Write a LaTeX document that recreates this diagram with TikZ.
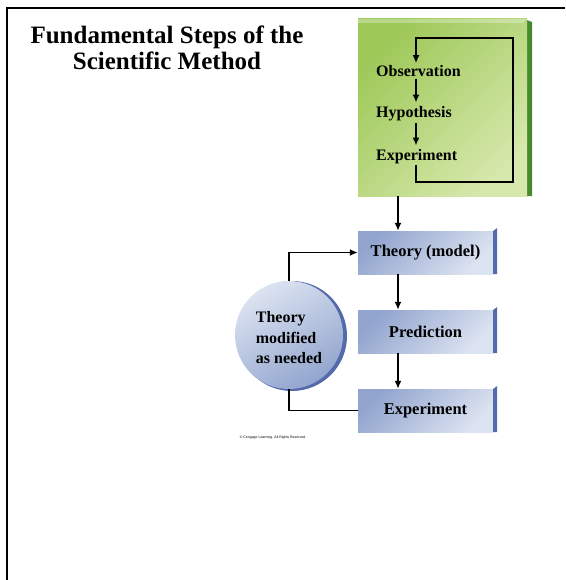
\documentclass[tikz,border=0pt]{standalone}
\usepackage{fontspec}
\setmainfont{Liberation Serif}
\newfontfamily\creditfont{Liberation Sans}
\definecolor{leafdark}{RGB}{158,200,88}
\definecolor{leaflight}{RGB}{214,232,172}
\definecolor{leafedge}{RGB}{72,138,48}
\definecolor{slatedark}{RGB}{146,165,206}
\definecolor{slatelight}{RGB}{220,227,241}
\definecolor{slateedge}{RGB}{84,106,170}
\tikzset{
    flowarrow/.style={line width=1.8pt, -{Latex[length=8pt,width=7pt]}},
    flowline/.style={line width=1.8pt},
    stepbox/.style={minimum width=135pt, minimum height=43pt, top color=slatedark, bottom color=slatelight, shading angle=45, font=\bfseries\fontsize{16.5}{18}\selectfont},
    steptext/.style={anchor=west, inner sep=1pt, font=\bfseries\fontsize{16}{18}\selectfont},
}
\usetikzlibrary{calc, arrows.meta, positioning}

\begin{document}
\begin{tikzpicture}[x=1pt,y=-1pt]
    \useasboundingbox (0,0) rectangle (565,580);
    \draw[line width=2pt] (6.5,580) -- (6.5,8.5) -- (565,8.5);
    \node[align=center, font=\bfseries\fontsize{25}{26}\selectfont] (title) at (167,48) {Fundamental Steps of the\\Scientific Method};
    % green cycle box
    \fill[leafedge] (524,19) -- (532,22) -- (532,196) -- (524,196) -- cycle;
    \node[minimum width=169pt, minimum height=177pt, top color=leafdark, bottom color=leaflight, shading angle=45] (loopbox) at (442.5,107.5) {};
    \fill[white, opacity=.3] (loopbox.north west) -- (loopbox.north east) -- ($(loopbox.north east)+(-4,4)$) -- ($(loopbox.north west)+(0,4)$) -- cycle;
    \node[steptext] (obs) at (375,71) {Observation};
    \node[steptext] (hyp) at (375,114) {Hypothesis};
    \node[steptext] (expa) at (375,157) {Experiment};
    \coordinate (ax) at (416,0);
    \coordinate (loopbr) at (513,182);
    \coordinate (looptr) at (513,38);
    \draw[flowarrow, shorten <=1pt, shorten >=3pt] (obs.south -| ax) -- (hyp.north -| ax);
    \draw[flowarrow, shorten <=1pt, shorten >=3pt] (hyp.south -| ax) -- (expa.north -| ax);
    \draw[flowarrow, shorten >=1pt] (expa.south -| ax) |- (loopbr) -- (looptr) -| (obs.north -| ax);
    % blue steps
    \node[stepbox] (theory) at (425.5,252.5) {Theory (model)};
    \node[stepbox] (pred) at (425.5,331.5) {Prediction};
    \node[stepbox] (expb) at (425.5,410.5) {Experiment};
    \foreach \b in {theory,pred,expb}{
        \fill[slateedge] (\b.north east) -- ++(4,-3) -- ($(\b.south east)+(4,0)$) -- (\b.south east) -- cycle;
        \fill[white, opacity=.45] (\b.north west) -- ++(0,-3) -- ($(\b.north east)+(4,-3)$) -- (\b.north east) -- cycle;
    }
    \coordinate (bx) at (398,0);
    \draw[flowarrow] (loopbox.south -| bx) -- (theory.north -| bx);
    \draw[flowarrow] (theory.south -| bx) -- (pred.north -| bx);
    \draw[flowarrow] (pred.south -| bx) -- (expb.north -| bx);
    % feedback circle
    \fill[slateedge] (292,336) circle (55pt);
    \node[circle, minimum size=108pt, inner sep=0pt, top color=slatelight, bottom color=slatedark, shading angle=30] (fix) at (289,335) {};
    \node[align=left, font=\bfseries\fontsize{16}{20.5}\selectfont] (fixtext) at (289,338) {Theory\\modified\\as needed};
    \draw[flowarrow] (fix.north) |- (theory.west);
    \draw[flowline] (fix.south) |- (expb.west);
    \node[font=\creditfont\fontsize{3.5}{4}\selectfont] (credit) at (273,438) {\textcopyright{} Cengage Learning. All Rights Reserved.};
\end{tikzpicture}
\end{document}
